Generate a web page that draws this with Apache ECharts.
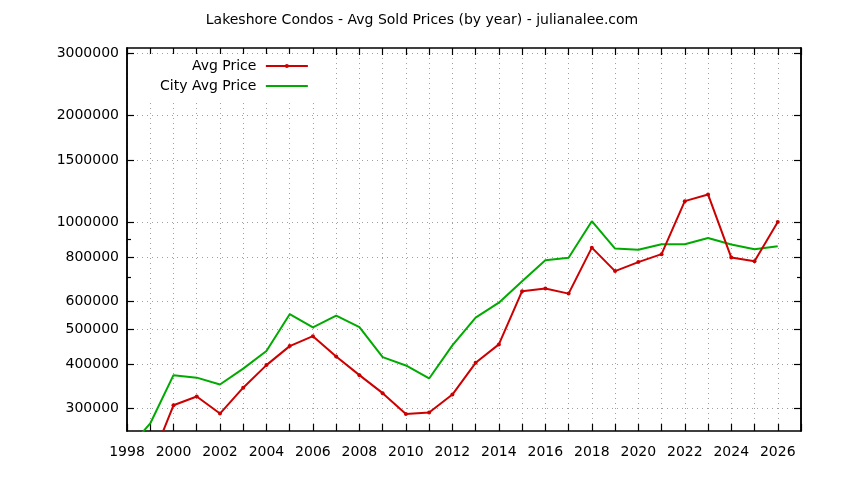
<!DOCTYPE html>
<html>
<head>
<meta charset="utf-8">
<script src="https://cdn.jsdelivr.net/npm/echarts@6/dist/echarts.min.js"></script>
<style>
html,body{margin:0;padding:0;background:#fff;}
#chart{width:844px;height:480px;}
</style>
</head>
<body>
<div id="chart"></div>
<script>
var titleText = 'Lakeshore Condos - Avg Sold Prices (by year) - julianalee.com';
var years = [1998,1999,2000,2001,2002,2003,2004,2005,2006,2007,2008,2009,2010,2011,2012,2013,2014,2015,2016,2017,2018,2019,2020,2021,2022,2023,2024,2025,2026];
var avgPrice = [null,210000,306000,324000,290000,343000,397000,449000,479000,420000,372000,331000,289000,292000,328000,403000,454000,641000,652000,631000,850000,730000,774000,815000,1149000,1200000,797000,778000,1004000];
var cityAvgPrice = [229000,272000,372000,366000,350000,388000,435000,552000,507000,547000,508000,418000,396000,364000,451000,540000,595000,684000,783000,796000,1009000,845000,838000,869000,869000,905000,867000,841000,858000];
var yTicks = [300000,400000,500000,600000,800000,1000000,1500000,2000000,3000000];
var yMinorTicks = [700000,900000];
var seriesNames = ['Avg Price','City Avg Price'];

function pairs(vals){
  var out = [];
  for (var i = 0; i < years.length; i++) {
    if (vals[i] != null) out.push([years[i], vals[i]]);
  }
  return out;
}

var FONT = 'DejaVu Sans';
var chart = echarts.init(document.getElementById('chart'), null, {renderer:'canvas'});
var frame = {show:true, lineStyle:{color:'#000', width:1.5}};
var yMin = 259000, yMax = 3100000;

function yAxisDef(pos, ticks, len, labels, split){
  return {
    type:'log', logBase:10, min:yMin, max:yMax, position:pos,
    axisLine: frame,
    axisTick:{show:true, inside:true, length:len, customValues:ticks, lineStyle:{color:'#000', width:1.2}},
    axisLabel:{show:labels, customValues:ticks, color:'#000', fontFamily:FONT, fontSize:14, margin:8,
      formatter:function(v){ return String(Math.round(v)); }},
    splitLine:{show:split, lineStyle:{color:'#a0a0a0', width:1, type:[1,4]}},
    minorTick:{show:false}, minorSplitLine:{show:false}
  };
}
function xAxisDef(pos, labels, split){
  return {
    type:'value', min:1998, max:2027, interval:1, position:pos,
    axisLine: frame,
    axisTick:{show:true, inside:true, length:7, lineStyle:{color:'#000', width:1.2}},
    axisLabel:{show:labels, color:'#000', fontFamily:FONT, fontSize:14, margin:14,
      formatter:function(v){ return (v % 2 === 0 && v < 2027) ? String(v) : ''; }},
    splitLine:{show:split, lineStyle:{color:'#a0a0a0', width:1, type:[1,4]}}
  };
}

chart.setOption({
  animation:false,
  backgroundColor:'#fff',
  title:{text:titleText, left:'center', top:8,
    textStyle:{fontFamily:FONT, fontSize:14, fontWeight:'normal', color:'#000'}},
  grid:{left:127, right:43, top:48, bottom:49, containLabel:false},
  legend:{
    orient:'vertical', align:'right', left:150, top:54,
    padding:[4,12,6,10], itemGap:4, itemWidth:42, itemHeight:5,
    backgroundColor:'#fff',
    formatter:function(name){ return name + ' '; },
    textStyle:{fontFamily:FONT, fontSize:14, color:'#000', lineHeight:16},
    data:[
      {name:seriesNames[0]},
      {name:seriesNames[1], itemStyle:{color:'rgba(0,0,0,0)', opacity:0, borderWidth:0}}
    ]
  },
  xAxis:[ xAxisDef('bottom', true, true), xAxisDef('top', false, false) ],
  yAxis:[
    yAxisDef('left', yTicks, 7, true, true),
    yAxisDef('right', yTicks, 7, false, false),
    yAxisDef('left', yMinorTicks, 4, false, false),
    yAxisDef('right', yMinorTicks, 4, false, false)
  ],
  series:[
    {name:seriesNames[0], type:'line', data:pairs(avgPrice), xAxisIndex:0, yAxisIndex:0,
      symbol:'circle', symbolSize:4, showSymbol:true, clip:true, z:3,
      itemStyle:{color:'#cc0000'}, lineStyle:{color:'#cc0000', width:2}},
    {name:seriesNames[1], type:'line', data:pairs(cityAvgPrice), xAxisIndex:0, yAxisIndex:0,
      symbol:'none', clip:true, z:2,
      itemStyle:{color:'#00aa00'}, lineStyle:{color:'#00aa00', width:2}}
  ]
});
</script>
</body>
</html>
